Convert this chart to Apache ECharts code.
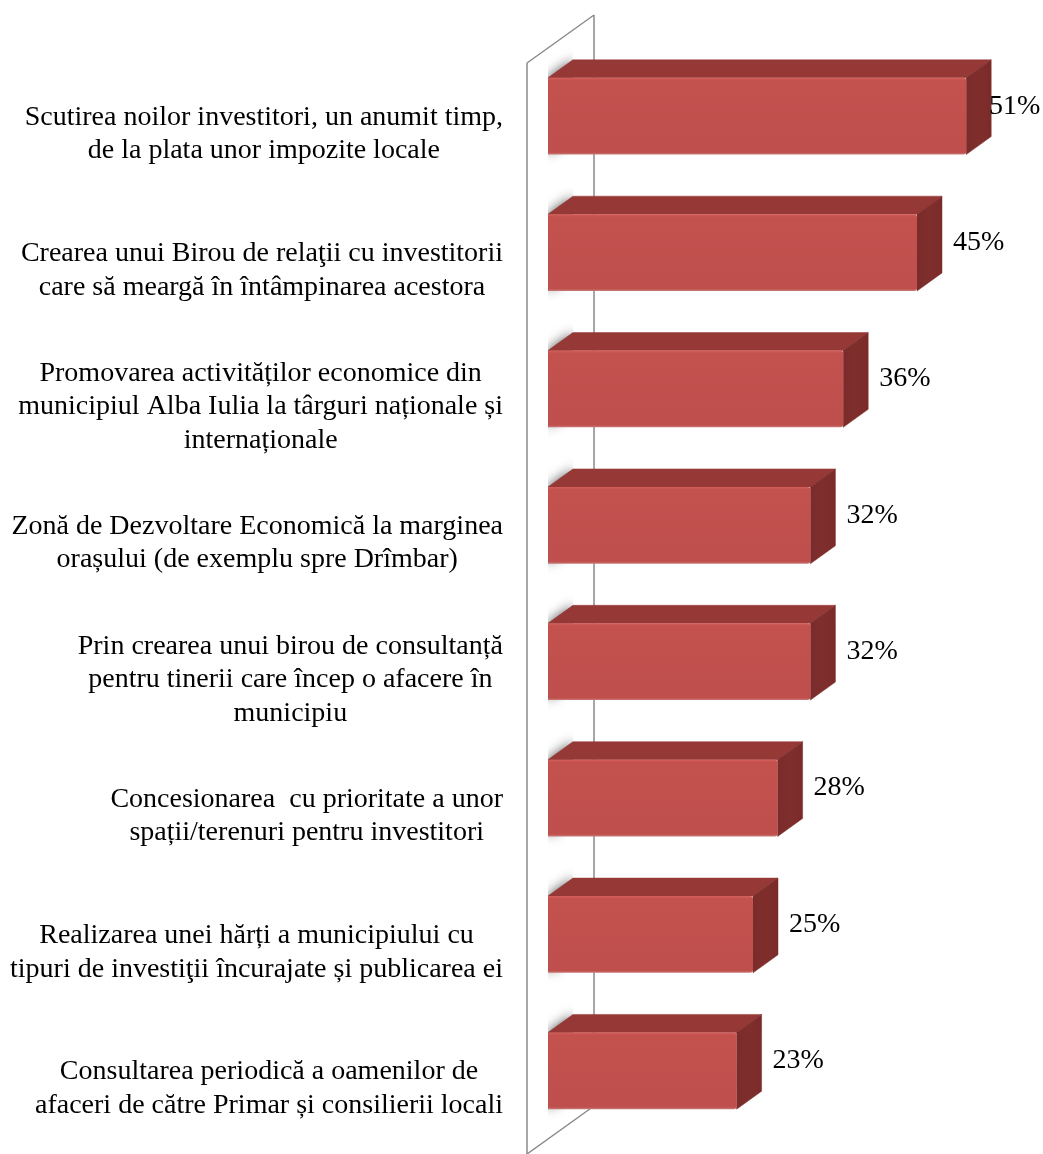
<!DOCTYPE html>
<html>
<head>
<meta charset="utf-8">
<script src="https://cdn.jsdelivr.net/npm/echarts@6/dist/echarts.min.js"></script>
<style>
  html, body { margin: 0; padding: 0; background: #ffffff; }
  #chart { width: 1043px; height: 1154px; }
</style>
</head>
<body>
<div id="chart"></div>
<script>
// Measures for attracting investors, share of respondents (%)
const categories = [
  'Scutirea noilor investitori, un anumit timp,\nde la plata unor impozite locale',
  'Crearea unui Birou de relaţii cu investitorii\ncare să meargă în întâmpinarea acestora',
  'Promovarea activităților economice din\nmunicipiul Alba Iulia la târguri naționale și\ninternaționale',
  'Zonă de Dezvoltare Economică la marginea\norașului (de exemplu spre Drîmbar)',
  'Prin crearea unui birou de consultanță\npentru tinerii care încep o afacere în\nmunicipiu',
  'Concesionarea  cu prioritate a unor\nspații/terenuri pentru investitori',
  'Realizarea unei hărți a municipiului cu\ntipuri de investiţii încurajate și publicarea ei',
  'Consultarea periodică a oamenilor de\nafaceri de către Primar și consilierii locali'
];
const shares = [51, 45, 36, 32, 32, 28, 25, 23];

const FONT = '"Liberation Serif", "Times New Roman", serif';

// oblique projection of the depth direction
const WALL_DX = 67, WALL_DY = -48;     // full depth of the side wall
const FRONT_DX = 21, FRONT_DY = -15;   // front plane of the bars inside the wall depth
const BAR_DX = 25, BAR_DY = -18;       // depth of a bar
const BAR_RATIO = 0.563;               // bar thickness relative to the category band

const chart = echarts.init(document.getElementById('chart'), null, { renderer: 'canvas' });

function renderWall(params, api) {
  if (params.dataIndex !== 0) return null;
  const cs = params.coordSys;
  const x = cs.x, y = cs.y, h = cs.height;
  const st = { stroke: '#8a8a8a', lineWidth: 1.5, fill: null };
  const line = (a, b, c, d) => ({ type: 'line', shape: { x1: a, y1: b, x2: c, y2: d }, style: st, silent: true });
  return {
    type: 'group',
    children: [
      line(x, y, x, y + h),
      line(x + WALL_DX, y + WALL_DY, x + WALL_DX, y + h + WALL_DY),
      line(x, y, x + WALL_DX, y + WALL_DY),
      line(x, y + h, x + WALL_DX, y + h + WALL_DY)
    ]
  };
}

function renderBar(params, api) {
  const v = api.value(0);
  const idx = api.value(1);
  const p0 = api.coord([0, idx]);
  const p1 = api.coord([v, idx]);
  const band = api.size([0, 1])[1];
  const h = band * BAR_RATIO;
  const x0 = p0[0] + FRONT_DX;
  const x1 = p1[0] + FRONT_DX;
  const yc = p0[1] + FRONT_DY;
  const yt = yc - h / 2;
  const yb = yc + h / 2;

  // soft shadow where the bar meets the wall
  const endFace = [[x0, yt], [x0 + BAR_DX, yt + BAR_DY], [x0 + BAR_DX, yb + BAR_DY], [x0, yb]];
  const shadow = {
    type: 'group',
    clipPath: { type: 'rect', shape: { x: x0, y: yt + BAR_DY - 30, width: BAR_DX, height: h - BAR_DY + 60 } },
    children: [{
      type: 'polygon',
      shape: { points: endFace },
      style: { fill: '#8f8f8f', shadowBlur: 12, shadowColor: 'rgba(0,0,0,0.65)' },
      silent: true
    }]
  };

  const top = {
    type: 'polygon',
    shape: { points: [[x0, yt], [x1, yt], [x1 + BAR_DX, yt + BAR_DY], [x0 + BAR_DX, yt + BAR_DY]] },
    style: { fill: '#953836', stroke: '#953836', lineWidth: 0.5, lineJoin: 'round' }
  };
  const side = {
    type: 'polygon',
    shape: { points: [[x1, yt], [x1 + BAR_DX, yt + BAR_DY], [x1 + BAR_DX, yb + BAR_DY], [x1, yb]] },
    style: {
      fill: new echarts.graphic.LinearGradient(0, 0, 1, 0, [
        { offset: 0, color: '#7a2c2a' },
        { offset: 0.5, color: '#7f2e2c' },
        { offset: 1, color: '#7a2b29' }
      ]),
      stroke: '#7c2d2b', lineWidth: 0.5, lineJoin: 'round'
    }
  };
  const front = {
    type: 'rect',
    shape: { x: x0, y: yt, width: x1 - x0, height: h, r: [0, 3, 3, 0] },
    style: {
      fill: new echarts.graphic.LinearGradient(0, 0, 0, 1, [
        { offset: 0, color: '#d65e5a' },
        { offset: 0.035, color: '#c3524f' },
        { offset: 0.97, color: '#bf4f4c' },
        { offset: 1, color: '#c97a78' }
      ])
    }
  };

  // value label beside the side face, kept inside the canvas
  const labelW = 52;
  const canvasW = api.getWidth();
  let lx = x1 + BAR_DX + 11;
  if (lx + labelW > canvasW - 2) lx = canvasW - 2 - labelW;
  const label = {
    type: 'text',
    style: {
      text: v + '%',
      x: lx,
      y: (yt + BAR_DY + yb) / 2 - 1,
      align: 'left',
      verticalAlign: 'middle',
      font: '28px ' + FONT,
      fill: '#000000'
    },
    z2: 10
  };

  return { type: 'group', children: [shadow, top, side, front, label] };
}

const option = {
  backgroundColor: '#ffffff',
  animation: false,
  grid: { left: 527, top: 63, width: 492, height: 1095, containLabel: false },
  xAxis: {
    type: 'value',
    min: 0,
    max: 60,
    interval: 10,
    show: false
  },
  yAxis: {
    type: 'category',
    data: categories,
    inverse: true,
    axisLine: { show: false },
    axisTick: { show: false },
    splitLine: { show: false },
    axisLabel: {
      margin: 24,
      align: 'right',
      padding: [6, 0, 0, 0],
      formatter: function (value) {
        return value.split('\n').map(function (s) { return '{c|' + s + '}'; }).join('\n');
      },
      rich: {
        c: {
          align: 'center',
          fontFamily: FONT,
          fontSize: 28,
          lineHeight: 33.5,
          color: '#000000'
        }
      }
    }
  },
  series: [
    {
      name: 'wall',
      type: 'custom',
      renderItem: renderWall,
      data: [[0, 0]],
      encode: { x: 0, y: 1 },
      clip: false,
      silent: true,
      z: 1
    },
    {
      name: 'share',
      type: 'custom',
      renderItem: renderBar,
      data: shares.map(function (v, i) { return [v, i]; }),
      encode: { x: 0, y: 1 },
      clip: false,
      z: 2
    }
  ]
};

chart.setOption(option);
</script>
</body>
</html>
